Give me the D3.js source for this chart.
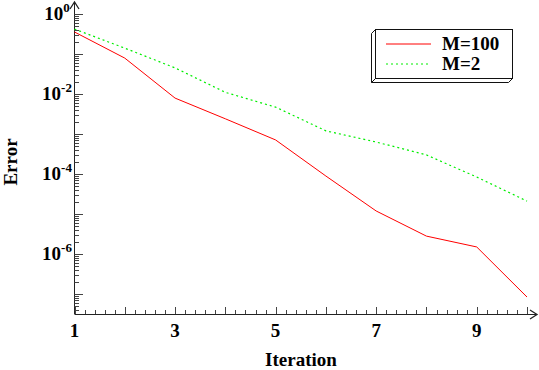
<!DOCTYPE html>
<html>
<head>
<meta charset="utf-8">
<script src="https://cdn.jsdelivr.net/npm/d3@7"></script>
<style>
    body { margin: 0; background: white; }
    text { font-family: "Liberation Serif", "Times New Roman", serif; font-weight: bold; }
</style>
</head>
<body>
<svg id="chart" width="539" height="370"></svg>
<script>
// data
let iterations = [1, 2, 3, 4, 5, 6, 7, 8, 9, 10];
let errorM100 = [0.355, 0.079, 0.0079, 0.0024, 7.1e-4, 8.9e-5, 1.19e-5, 2.8e-6, 1.5e-6, 8.4e-8];
let errorM2 = [0.42, 0.14, 0.045, 0.011, 4.7e-3, 1.2e-3, 6.3e-4, 3.0e-4, 8.4e-5, 2.1e-5];
let xTickLabels = [1, 3, 5, 7, 9];
let yTickExponents = [0, -2, -4, -6];
let seriesNames = ["M=100", "M=2"];

let svg = d3.select("#chart");

let x = d3.scaleLinear().domain([1, 10]).range([74.5, 527]);
let y = d3.scaleLog().domain([Math.pow(10, -7.5), 1]).range([314, 14]);

let tickColor = "#444";

// x axis: line, ticks every 0.2, longer at integers
let xAxisG = svg.append("g");
xAxisG.append("line")
    .attr("x1", x(1)).attr("x2", 536)
    .attr("y1", 314.5).attr("y2", 314.5)
    .attr("stroke", "#222");
xAxisG.append("path")
    .attr("d", "M530,310 L537,314.5 L530,319")
    .attr("fill", "none")
    .attr("stroke", "#222")
    .attr("stroke-width", 1.3);

let xMinor = d3.range(0, 46).map(i => 1 + i * 0.2);
xAxisG.selectAll(".xtick")
    .data(xMinor)
    .join("line")
    .attr("x1", d => Math.round(x(d)) + 0.5)
    .attr("x2", d => Math.round(x(d)) + 0.5)
    .attr("y1", 314)
    .attr("y2", d => Math.abs(d - Math.round(d)) < 1e-6 ? 307 : 310)
    .attr("stroke", tickColor);

xAxisG.selectAll(".xlabel")
    .data(xTickLabels)
    .join("text")
    .attr("x", d => x(d))
    .attr("y", 337)
    .attr("text-anchor", "middle")
    .attr("font-size", 19)
    .text(d => d);

// y axis: log ticks, decades long, 2..9 short
let yAxisG = svg.append("g");
yAxisG.append("line")
    .attr("x1", 74.5).attr("x2", 74.5)
    .attr("y1", 314).attr("y2", 3)
    .attr("stroke", "#222");
yAxisG.append("path")
    .attr("d", "M70,9 L74.5,2 L79,9")
    .attr("fill", "none")
    .attr("stroke", "#222")
    .attr("stroke-width", 1.3);

let yTicks = [];
for (let e = -8; e <= 0; e++) {
    for (let m = 1; m <= 9; m++) {
        let v = m * Math.pow(10, e);
        if (v >= Math.pow(10, -7.5) && v <= 1.0000001) yTicks.push({ v: v, major: m === 1 });
    }
}
yAxisG.selectAll(".ytick")
    .data(yTicks)
    .join("line")
    .attr("x1", 74.5)
    .attr("x2", d => d.major ? 83 : 79)
    .attr("y1", d => Math.round(y(d.v)) + 0.5)
    .attr("y2", d => Math.round(y(d.v)) + 0.5)
    .attr("stroke", tickColor);

let yLabels = yAxisG.selectAll(".ylabel")
    .data(yTickExponents)
    .join("text")
    .attr("x", 57)
    .attr("y", d => y(Math.pow(10, d)) + 6)
    .attr("text-anchor", "middle")
    .attr("font-size", 19);
yLabels.append("tspan").text("10");
yLabels.append("tspan")
    .attr("dy", -8)
    .attr("font-size", 13)
    .text(d => d);

// axis titles
svg.append("text")
    .attr("x", 301)
    .attr("y", 366)
    .attr("text-anchor", "middle")
    .attr("font-size", 19)
    .text("Iteration");

svg.append("text")
    .attr("transform", "translate(17,162) rotate(-90)")
    .attr("text-anchor", "middle")
    .attr("font-size", 19)
    .text("Error");

// lines
let line = d3.line()
    .x(d => x(d[0]))
    .y(d => y(d[1]));

svg.append("path")
    .datum(iterations.map((it, i) => [it, errorM100[i]]))
    .attr("d", line)
    .attr("fill", "none")
    .attr("stroke", "#ff0000")
    .attr("stroke-width", 1);

svg.append("path")
    .datum(iterations.map((it, i) => [it, errorM2[i]]))
    .attr("d", line)
    .attr("fill", "none")
    .attr("stroke", "#00ee00")
    .attr("stroke-width", 1.2)
    .attr("stroke-dasharray", "2,3");

// legend with a bevelled box
let legend = svg.append("g");
legend.append("path")
    .attr("d", "M375.5,29.5 L371.5,33.5 L371.5,82.5 L508.5,82.5 L512.5,78.5")
    .attr("fill", "white")
    .attr("stroke", "#111");
legend.append("rect")
    .attr("x", 375.5).attr("y", 29.5)
    .attr("width", 137).attr("height", 49)
    .attr("fill", "white")
    .attr("stroke", "#111");
legend.append("line")
    .attr("x1", 375.5).attr("y1", 78.5)
    .attr("x2", 371.5).attr("y2", 82.5)
    .attr("stroke", "#111");

let legendColors = ["#ff0000", "#00ee00"];
let legendDash = [null, "2,3"];
seriesNames.forEach((name, i) => {
    let ly = 44 + i * 20;
    legend.append("line")
        .attr("x1", 386).attr("x2", 431)
        .attr("y1", ly).attr("y2", ly)
        .attr("stroke", legendColors[i])
        .attr("stroke-width", i === 0 ? 1 : 1.2)
        .attr("stroke-dasharray", legendDash[i]);
    legend.append("text")
        .attr("x", 442)
        .attr("y", ly + 6)
        .attr("font-size", 19)
        .text(name);
});
</script>
</body>
</html>
